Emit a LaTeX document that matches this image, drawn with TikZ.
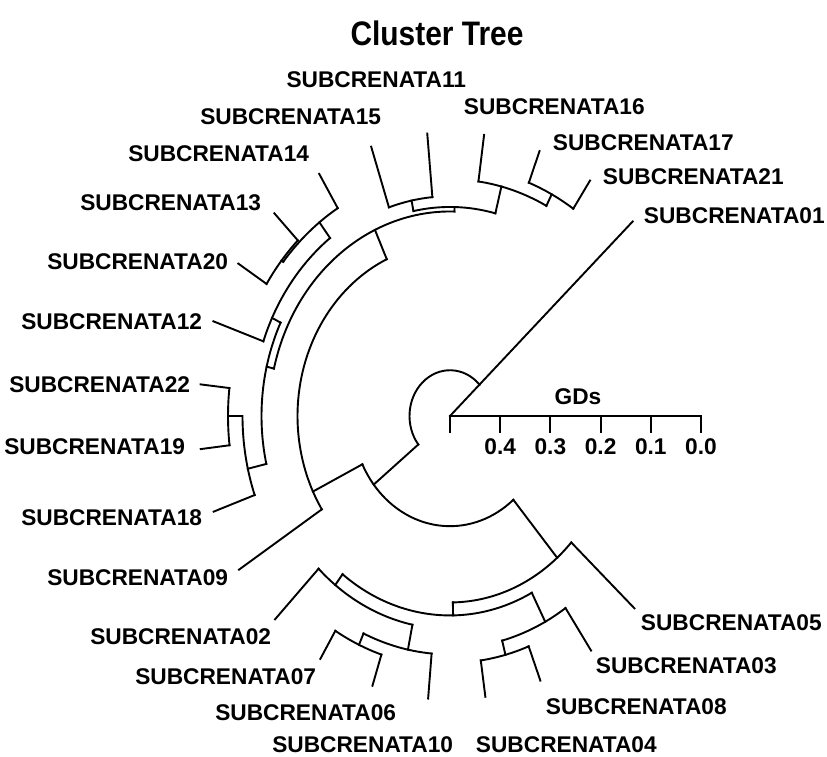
\documentclass[tikz,border=0pt]{standalone}
\usepackage{fontspec}
\setmainfont{Liberation Sans}
\newfontfamily\titlefamily[FakeStretch=0.88]{Liberation Sans}
\newcommand\labfont{\fontsize{22.7}{26}\selectfont\bfseries}
\newcommand\titlefont{\titlefamily\fontsize{34}{40}\selectfont\bfseries}

\begin{document}
\begin{tikzpicture}[x=1pt,y=1pt,line width=1.9pt,line cap=rect,
  lab/.style={font=\labfont,inner sep=0pt}]

\useasboundingbox (0,0) rectangle (827,-757);

\node (title) at (437,-33) {\titlefont Cluster Tree};

\begin{scope}[shift={(450,-416)},yscale=1.13]
\coordinate (root) at (0,0);

% stems: angle / inner radius / outer radius
\foreach \a/\ri/\ro in {218.5/40.5/97.5, 206/97.5/152.5, 310.5/97.5/165,
    114.5/152.5/181, 88.6/181/185, 75.8/185/209.5, 62.6/209.5/221,
    101.4/185/194.5, 166.6/181/188.5, 154/188.5/198, 127.3/198/215.5,
    140.7/215.5/217.5, 193/188.5/207.5, 180/207.5/222,
    271/165/176.5, 232.5/176.5/188.5, 258.5/188.5/211, 245.8/211/222,
    297.6/176.5/205.5, 284.7/205.5/218.5}
    \draw (\a:\ri) -- (\a:\ro);

% arcs: radius / from / to
\foreach \r/\a/\b in {40.5/43/218.5, 97.5/206/310.5, 152.5/114.5/212.8,
    165/271/317.3, 181/88.6/166.6, 185/75.8/101.4, 209.5/62.6/82.2,
    221/56.1/69.1, 194.5/95.2/108.3, 188.5/154/193, 198/127.3/160.5,
    215.5/121.4/140.7, 217.5/134.4/147.5, 207.5/180/199.7, 222/173.6/186.7,
    176.5/232.5/297.6, 188.5/225.8/258.5, 211/245.8/265, 222/238.9/252,
    205.5/284.7/304.2, 218.5/278.1/291.1}
    \draw (\a:\r) arc[start angle=\a,end angle=\b,radius=\r];

% leaves: name / angle / radius of parent
\foreach \n/\a/\r in {01/43.3/0, 21/56.1/221, 17/69.1/221, 16/82.2/209.5,
    11/95.2/194.5, 15/108.3/194.5, 14/121.4/215.5, 13/134.4/217.5,
    20/147.5/217.5, 12/160.5/198, 22/173.6/222, 19/186.7/222,
    18/199.7/207.5, 09/212.8/152.5, 02/225.8/188.5, 07/238.9/222,
    06/252/222, 10/265/211, 04/278.1/218.5, 08/291.1/218.5,
    03/304.2/205.5, 05/317.3/165}
    \draw (\a:\r) -- (\a:251) coordinate (t\n);
\end{scope}

% labels on the right
\foreach \n/\x/\y in {01/643/216, 21/602/177, 17/552/143, 16/463/107,
    05/640/623, 03/595/666, 08/545/707, 04/475/745}
    \node[lab,anchor=west] (s\n) at (\x,-\y) {SUBCRENATA\n};

% labels on the left
\foreach \n/\x/\y in {11/467/80, 15/382/117, 14/310/154, 13/262/203,
    20/229/262, 12/203/322, 22/191/385, 19/186/447, 18/203/518,
    09/229/578, 02/272/637, 07/317/677, 06/397/713, 10/454/745}
    \node[lab,anchor=east] (s\n) at (\x,-\y) {SUBCRENATA\n};

% scale
\coordinate (ax0) at (root);
\coordinate (ax1) at (701,-416);
\draw (ax0) -- (ax1);
\foreach \i/\t in {0/,1/0.4,2/0.3,3/0.2,4/0.1,5/0.0}{
    \draw (450+50.2*\i,-416) -- ++(0,-16);
    \node[lab] (g\i) at (450+50.2*\i,-447) {\t};
}
\node[lab] (gds) at (578,-397) {GDs};

\end{tikzpicture}
\end{document}
